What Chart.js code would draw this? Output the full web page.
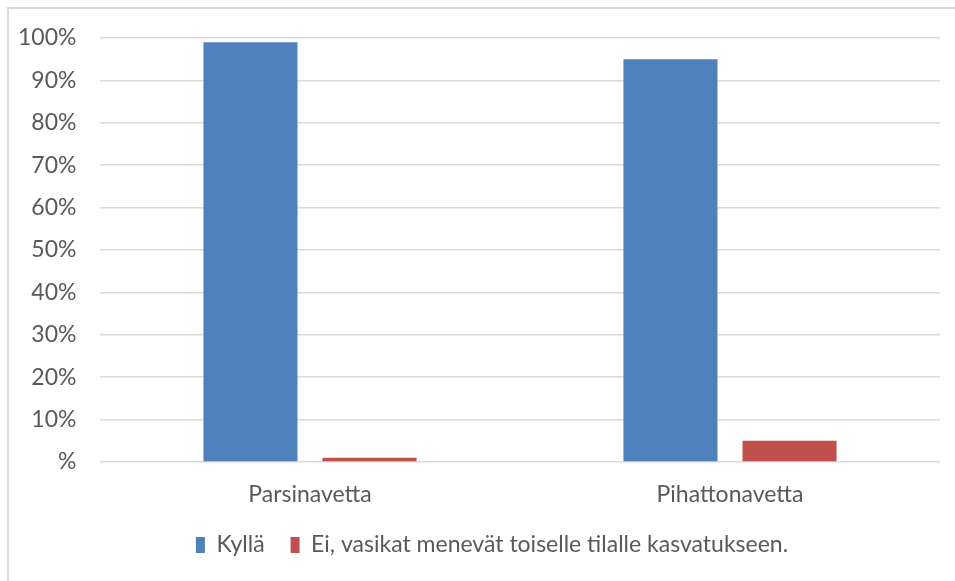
<!DOCTYPE html>
<html>
<head>
<meta charset="utf-8">
<script src="https://cdn.jsdelivr.net/npm/chart.js@4"></script>
<style>
  html, body { margin: 0; padding: 0; background: #fff; }
  #wrap { position: relative; width: 955px; height: 581px; }
  #frame { position: absolute; left: 7px; top: 7px; right: 0; bottom: 0;
           border-top: 2px solid #d9d9d9; border-left: 2px solid #d9d9d9; }
  canvas { position: absolute; left: 0; top: 0; }
</style>
</head>
<body>
<div id="wrap">
  <div id="frame"></div>
  <canvas id="chart" width="955" height="581"></canvas>
</div>
<script>
const categories = ['Parsinavetta', 'Pihattonavetta'];
const seriesNames = ['Kyllä', 'Ei, vasikat menevät toiselle tilalle kasvatukseen.'];
const kylla = [99, 95];
const ei = [1, 5];
const tickValues = [0, 10, 20, 30, 40, 50, 60, 70, 80, 90, 100];

const textColor = '#595959';
const font = { family: 'Lato', size: 23 };

const ctx = document.getElementById('chart').getContext('2d');

new Chart(ctx, {
  type: 'bar',
  data: {
    labels: categories,
    datasets: [
      { label: seriesNames[0], data: kylla, backgroundColor: '#4f81bd' },
      { label: seriesNames[1], data: ei, backgroundColor: '#c0504d' }
    ]
  },
  options: {
    responsive: false,
    animation: false,
    // left padding pushes the legend centre right, y axis width makes up for it
    layout: { padding: { top: 38, right: 15, bottom: 14.5, left: 44 } },
    datasets: {
      bar: { categoryPercentage: 0.567, barPercentage: 0.79 }
    },
    scales: {
      x: {
        grid: { display: false, drawTicks: false },
        border: { display: false },
        ticks: { color: textColor, font: font, padding: 19 },
        afterFit: (s) => { s.height = 45.5; }
      },
      y: {
        min: 0,
        max: 100,
        afterBuildTicks: (s) => { s.ticks = tickValues.map(v => ({ value: v })); },
        grid: { color: '#d9d9d9', lineWidth: 1.5, drawTicks: false },
        border: { display: false },
        // mirrored labels are not clipped to the narrow axis box
        ticks: {
          color: textColor, font: font, mirror: true, crossAlign: 'far', padding: -82,
          callback: (v) => v === 0 ? '%' : v + '%'
        },
        afterFit: (s) => { s.width = 56; }
      }
    },
    plugins: {
      legend: {
        position: 'bottom',
        labels: { color: textColor, font: font, boxWidth: 9, boxHeight: 16, padding: 26 }
      },
      tooltip: { enabled: false }
    }
  }
});
</script>
</body>
</html>
